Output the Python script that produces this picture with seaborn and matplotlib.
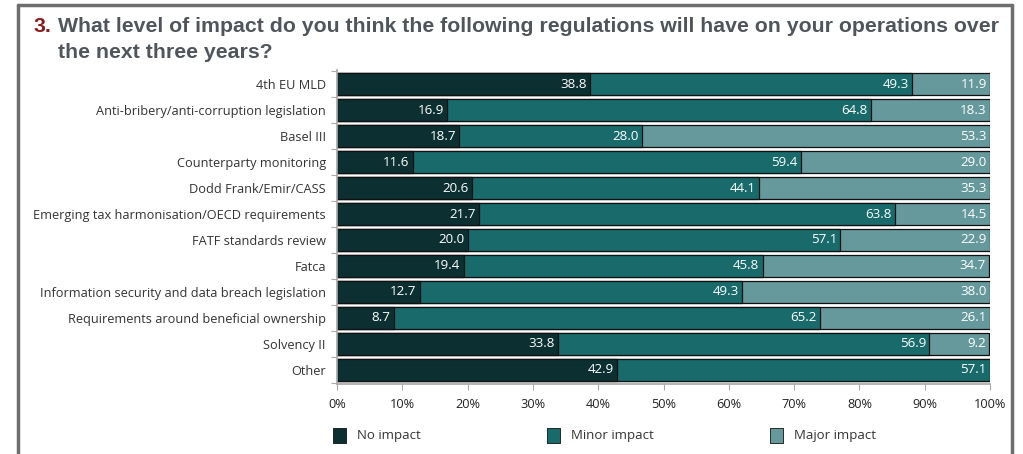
import matplotlib
matplotlib.use("Agg")
import matplotlib.pyplot as plt
import seaborn as sns
import pandas as pd
import numpy as np
from matplotlib.patches import Rectangle
from matplotlib.lines import Line2D

categories = ["4th EU MLD", "Anti-bribery/anti-corruption legislation", "Basel III",
              "Counterparty monitoring", "Dodd Frank/Emir/CASS",
              "Emerging tax harmonisation/OECD requirements", "FATF standards review",
              "Fatca", "Information security and data breach legislation",
              "Requirements around beneficial ownership", "Solvency II", "Other"]
no_impact = [38.8, 16.9, 18.7, 11.6, 20.6, 21.7, 20.0, 19.4, 12.7, 8.7, 33.8, 42.9]
minor_impact = [49.3, 64.8, 28.0, 59.4, 44.1, 63.8, 57.1, 45.8, 49.3, 65.2, 56.9, 57.1]
major_impact = [11.9, 18.3, 53.3, 29.0, 35.3, 14.5, 22.9, 34.7, 38.0, 26.1, 9.2, 0.0]
series_names = ["No impact", "Minor impact", "Major impact"]
colors = ["#0c2f31", "#186a6b", "#66999c"]
xticks = [0, 10, 20, 30, 40, 50, 60, 70, 80, 90, 100]

sns.set_theme(style="white")
plt.rcParams['font.family'] = ['Open Sans', 'DejaVu Sans']

fig = plt.figure(figsize=(10.23, 4.54), dpi=100)
ax = fig.add_axes([337/1023, 1-384/454, (990-337)/1023, (384-70)/454])

series_vals = [np.array(no_impact), np.array(minor_impact), np.array(major_impact)]
cums = np.cumsum(series_vals, axis=0)

# draw stacked bars: largest cumulative first, then overlay smaller ones
for k in [2, 1, 0]:
    plot_df = pd.DataFrame({"category": categories, "value": cums[k]})
    sns.barplot(data=plot_df, x="value", y="category", color=colors[k], orient="h",
                width=0.85, edgecolor="#111111", linewidth=0.9, ax=ax, errorbar=None,
                saturation=1)

# value labels
for k in range(3):
    starts = cums[k] - series_vals[k]
    for j, v in enumerate(series_vals[k]):
        if v > 0:
            ax.text(starts[j] + v - 0.5, j, f"{v:.1f}", ha="right", va="center",
                    color="white", fontsize=9.6, zorder=5)

ax.set_ylim(len(categories) - 0.46, -0.54)
ax.set_xlim(0, 100)
ax.set_yticks(np.arange(len(categories)))
ax.set_yticklabels(categories, fontsize=9.2, color="#333333")
ax.set_yticks(np.arange(-0.5, len(categories), 1), minor=True)
ax.set_xticks(xticks)
ax.set_xticklabels([f"{t}%" for t in xticks], fontsize=9.2, color="#222222")
for s in ["top", "right"]:
    ax.spines[s].set_visible(False)
ax.spines["left"].set_color("#aaaaaa")
ax.spines["bottom"].set_color("#aaaaaa")
ax.tick_params(axis="y", which="major", length=0, pad=8)
ax.tick_params(axis="y", which="minor", length=4, color="#aaaaaa", width=0.8, left=True)
ax.tick_params(axis="x", length=4, color="#aaaaaa", width=0.8, bottom=True, pad=6)
ax.set_xlabel("")
ax.set_ylabel("")

# legend
xs = [333, 547, 770]
for c, name, x in zip(colors, series_names, xs):
    fig.patches.append(Rectangle((x/1023, 1-443/454), 13/1023, 15/454, transform=fig.transFigure,
                                 facecolor=c, edgecolor="#111111", linewidth=0.6))
    fig.text((x+24)/1023, 1-436/454, name, fontsize=9.5, color="#333333", va="center", ha="left")

# frame
frame_col = "#6e6e6e"
fig.add_artist(Line2D([18/1023, 18/1023], [0, 1-5/454], transform=fig.transFigure, color=frame_col, lw=2.5))
fig.add_artist(Line2D([18/1023, 1012/1023], [1-5/454, 1-5/454], transform=fig.transFigure, color=frame_col, lw=2.5))
fig.add_artist(Line2D([1012/1023, 1012/1023], [0, 1-5/454], transform=fig.transFigure, color=frame_col, lw=2.5))

# title
tfont = ['Liberation Sans', 'DejaVu Sans']
fig.text(33/1023, 1-27/454, "3.", fontsize=15.3, fontweight="bold", color="#8c1c1c", va="center", family=tfont)
fig.text(58/1023, 1-27/454, "What level of impact do you think the following regulations will have on your operations over",
         fontsize=15.3, fontweight="bold", color="#4f555b", va="center", family=tfont)
fig.text(58/1023, 1-53/454, "the next three years?", fontsize=15.3, fontweight="bold", color="#4f555b", va="center", family=tfont)

fig.savefig("out.png", dpi=100)
